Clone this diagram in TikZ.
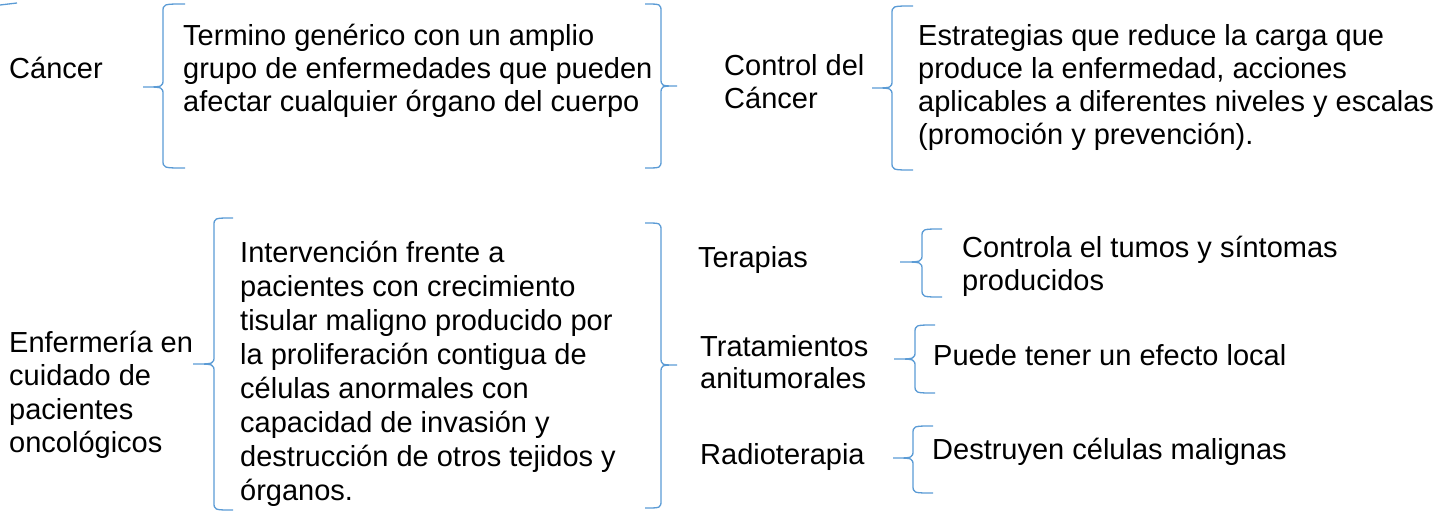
\documentclass[tikz,border=0pt]{standalone}
\usepackage{fontspec}
\setmainfont{Liberation Sans}
\usepackage{tikz}
\definecolor{bracecol}{RGB}{91,155,213}
\tikzset{
  bracestyle/.style={draw=bracecol, line width=1.3pt},
  lbl/.style={inner sep=0pt, align=left, anchor=base west, font=\fontsize{29}{33}\selectfont},
  txt/.style={inner sep=0pt, align=left, anchor=north west, font=\fontsize{29}{#1}\selectfont},
  txt/.default=33
}
% curly bracket: tip x, line x, hook x, top y, tip y, bottom y
\newcommand*\curlybr[6]{%
  \draw[bracestyle] (#3,#4) .. controls (#2,#4) .. (#2,#4+8) -- (#2,#5-8)
    .. controls (#2,#5) .. (#1,#5) .. controls (#2,#5) .. (#2,#5+8)
    -- (#2,#6-8) .. controls (#2,#6) .. (#3,#6);%
}
\begin{document}
\begin{tikzpicture}[x=1pt, y=-1pt]
\useasboundingbox (0,0) rectangle (1445,524);

% top row
\draw[bracestyle] (0,5) .. controls (9,4.5) .. (17,3);
\node[lbl] (cancer) at (9,79) {Cáncer};
\curlybr{143}{163}{185}{4}{87}{168}
\node[txt] (defcancer) at (183,22.4) {\strut Termino genérico con un amplio\\grupo de enfermedades que pueden\\afectar cualquier órgano del cuerpo};
\curlybr{677}{661}{645}{4}{86}{168}

\node[txt] (control) at (724,51.9) {\strut Control del\\Cáncer};
\curlybr{872}{892}{913}{6}{88}{170}
\node[txt] (defcontrol) at (918,21.9) {\strut Estrategias que reduce la carga que\\produce la enfermedad, acciones\\aplicables a diferentes niveles y escalas\\(promoción y prevención).};

% bottom row
\node[txt=33.5] (enfermeria) at (9,328.55) {\strut Enfermería en\\cuidado de\\pacientes\\oncológicos};
\curlybr{193}{214}{233}{218}{364}{510}
\node[txt=34] (defenf) at (240,238.2) {\strut Intervención frente a\\pacientes con crecimiento\\tisular maligno producido por\\la proliferación contigua de\\células anormales con\\capacidad de invasión y\\destrucción de otros tejidos y\\órganos.};
\curlybr{677}{661}{645}{223}{365}{508}

\node[lbl] (terapias) at (698,267) {Terapias};
\curlybr{900}{922}{942}{229}{262}{297}
\node[txt] (defter) at (962,233.9) {\strut Controla el tumos y síntomas\\producidos};

\node[txt=32] (tratam) at (700,333.6) {\strut Tratamientos\\anitumorales};
\curlybr{894}{915}{935}{325}{359}{393}
\node[lbl] (deftrat) at (933,365) {Puede tener un efecto local};

\node[lbl] (radio) at (700,464) {Radioterapia};
\curlybr{893}{913}{933}{426}{458}{493}
\node[lbl] (defradio) at (932,459) {Destruyen células malignas};

\end{tikzpicture}
\end{document}
